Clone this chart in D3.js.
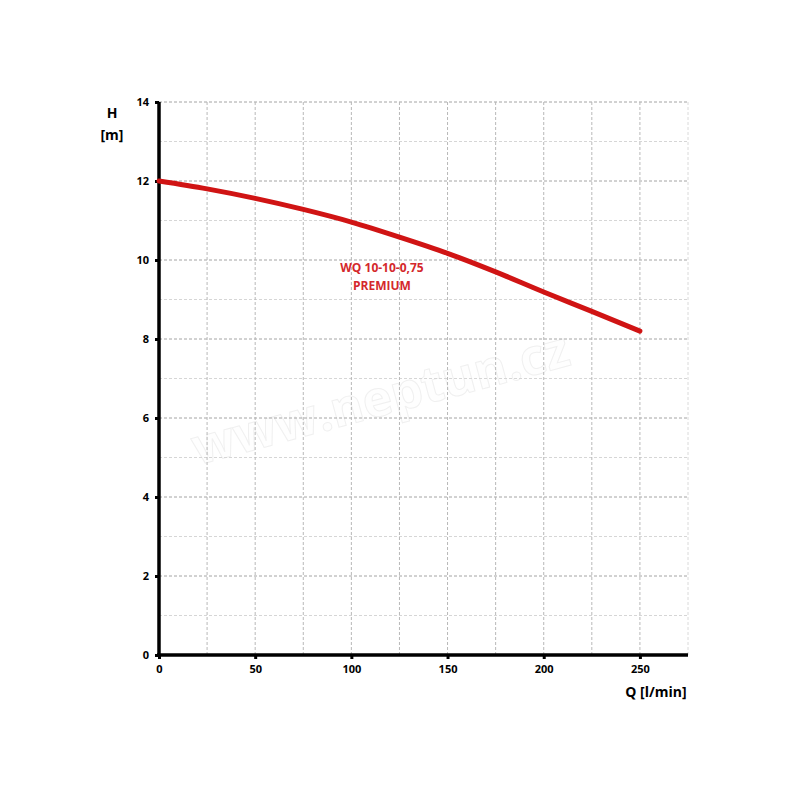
<!DOCTYPE html>
<html><head><meta charset="utf-8">
<script src="https://cdn.jsdelivr.net/npm/d3@7"></script>
<style>body{margin:0;background:#fff}svg{display:block}</style>
</head><body>
<svg id="c" width="800" height="800"></svg>
<script>
const flowQ = [0, 25, 50, 75, 100, 125, 150, 175, 200, 225, 250];
const headH = [12.0, 11.8, 11.56, 11.28, 10.96, 10.58, 10.17, 9.7, 9.19, 8.7, 8.2];
const xTicks = [0, 50, 100, 150, 200, 250];
const yTicks = [0, 2, 4, 6, 8, 10, 12, 14];
const seriesLabel = ["WQ 10-10-0,75", "PREMIUM"];

const svg = d3.select("#c");
const x = d3.scaleLinear().domain([0, 275]).range([159, 688]);
const y = d3.scaleLinear().domain([0, 14]).range([655, 102]);
const font = "'Open Sans', 'DejaVu Sans', sans-serif";

// watermark
svg.append("text").attr("x", 385).attr("y", 415)
  .attr("transform", "rotate(-15,385,415)")
  .attr("text-anchor", "middle").attr("font-family", font).attr("font-weight", 700)
  .attr("font-size", 50).attr("fill", "#fefefe").attr("stroke", "#f0f0f0").attr("stroke-width", 1)
  .text("www.neptun.cz");

// horizontal grid
const hg = d3.range(1, 15);
svg.append("g").selectAll("line").data(hg).join("line")
  .attr("x1", x(0)).attr("x2", x(275))
  .attr("y1", d => y(d)).attr("y2", d => y(d))
  .attr("stroke", d => d % 2 === 0 ? "#a4a4a4" : "#d6d6d6")
  .attr("stroke-width", 1).attr("stroke-dasharray", "3,2");
// vertical grid
const vg = d3.range(25, 276, 25);
svg.append("g").selectAll("line").data(vg).join("line")
  .attr("x1", d => x(d)).attr("x2", d => x(d))
  .attr("y1", y(14)).attr("y2", y(0))
  .attr("stroke", d => d === 275 ? "#dadada" : "#b8b8b8")
  .attr("stroke-width", 1).attr("stroke-dasharray", "3,2");

// axes
const xAxis = d3.axisBottom(x).tickValues(xTicks).tickSize(4).tickPadding(6).tickSizeOuter(0);
const gx = svg.append("g").attr("transform", `translate(0,${y(0)})`).call(xAxis);
gx.select(".domain").attr("stroke", "#000").attr("stroke-width", 3.5).attr("d", `M${x(0)-2},0H${x(275)}`);
gx.selectAll(".tick line").attr("stroke", "#000").attr("stroke-width", 3);
gx.selectAll(".tick text").attr("font-family", font).attr("font-weight", 700).attr("font-size", 11).attr("fill", "#000");

const yAxis = d3.axisLeft(y).tickValues(yTicks).tickSize(4).tickPadding(6).tickSizeOuter(0);
const gy = svg.append("g").attr("transform", `translate(${x(0)},0)`).call(yAxis);
gy.select(".domain").attr("stroke", "#000").attr("stroke-width", 3.5).attr("d", `M0,${y(0)+2}V${y(14)}`);
gy.selectAll(".tick line").attr("stroke", "#000").attr("stroke-width", 3);
gy.selectAll(".tick text").attr("font-family", font).attr("font-weight", 700).attr("font-size", 11).attr("fill", "#000");

// axis titles
svg.append("text").attr("x", 112).attr("y", 118).attr("text-anchor", "middle")
  .attr("font-family", font).attr("font-weight", 700).attr("font-size", 14).text("H");
svg.append("text").attr("x", 112).attr("y", 140).attr("text-anchor", "middle")
  .attr("font-family", font).attr("font-weight", 700).attr("font-size", 14).text("[m]");
svg.append("text").attr("x", 656).attr("y", 697).attr("text-anchor", "middle")
  .attr("font-family", font).attr("font-weight", 700).attr("font-size", 14).text("Q [l/min]");

// curve
const line = d3.line().x((d, i) => x(flowQ[i])).y(d => y(d)).curve(d3.curveMonotoneX);
svg.append("path").datum(headH).attr("d", line)
  .attr("fill", "none").attr("stroke", "#d01414").attr("stroke-width", 5).attr("stroke-linecap", "round");

// label
svg.append("g").selectAll("text").data(seriesLabel).join("text")
  .attr("x", 382).attr("y", (d, i) => 272 + i * 18).attr("text-anchor", "middle")
  .attr("font-family", font).attr("font-weight", 700).attr("font-size", 12).attr("fill", "#d4282c")
  .text(d => d);
</script>
</body></html>
